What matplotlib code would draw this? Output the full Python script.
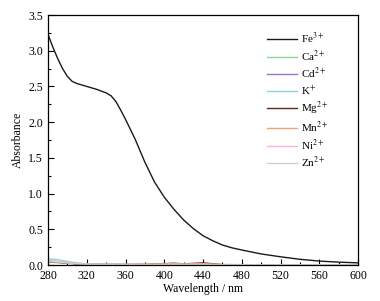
import numpy as np
import matplotlib
matplotlib.use('Agg')
import matplotlib.pyplot as plt
from matplotlib.ticker import MultipleLocator

plt.rcParams['font.family'] = ['Liberation Serif', 'DejaVu Serif']
plt.rcParams['mathtext.fontset'] = 'stix'

# wavelength grid (nm) and absorbance
wl = [280, 285, 290, 295, 300, 305, 310, 320, 330, 340, 345, 350, 355, 360, 370,
      380, 390, 400, 410, 420, 430, 440, 450, 460, 470, 480, 500, 520, 540, 560,
      580, 600]
fe = [3.23, 3.05, 2.89, 2.75, 2.64, 2.57, 2.54, 2.50, 2.46, 2.41, 2.37, 2.29,
      2.17, 2.04, 1.76, 1.44, 1.16, 0.95, 0.78, 0.63, 0.51, 0.41, 0.34, 0.28,
      0.24, 0.21, 0.155, 0.115, 0.08, 0.055, 0.04, 0.03]

wl_s = [280, 290, 300, 310, 320, 340, 360, 380, 400, 410, 420, 440, 460, 500, 550, 600]
ca = [0.06, 0.05, 0.035, 0.02, 0.012, 0.008, 0.006, 0.006, 0.008, 0.008, 0.007, 0.006, 0.004, 0.004, 0.003, 0.003]
cd = [0.05, 0.045, 0.03, 0.02, 0.012, 0.008, 0.006, 0.006, 0.006, 0.006, 0.006, 0.005, 0.004, 0.003, 0.003, 0.002]
k = [0.085, 0.075, 0.05, 0.03, 0.015, 0.01, 0.007, 0.006, 0.007, 0.007, 0.006, 0.005, 0.004, 0.003, 0.003, 0.002]
mg = [0.04, 0.035, 0.025, 0.015, 0.01, 0.006, 0.006, 0.008, 0.018, 0.025, 0.015, 0.03, 0.005, 0.003, 0.003, 0.002]
mn = [0.045, 0.04, 0.03, 0.02, 0.012, 0.008, 0.008, 0.01, 0.015, 0.02, 0.015, 0.02, 0.006, 0.004, 0.003, 0.003]
ni = [0.055, 0.05, 0.035, 0.022, 0.012, 0.008, 0.006, 0.006, 0.007, 0.007, 0.006, 0.006, 0.004, 0.003, 0.003, 0.002]
zn = [0.05, 0.045, 0.03, 0.02, 0.012, 0.008, 0.006, 0.006, 0.006, 0.006, 0.006, 0.005, 0.004, 0.003, 0.003, 0.002]

labels = ['Fe$^{3+}$', 'Ca$^{2+}$', 'Cd$^{2+}$', 'K$^{+}$', 'Mg$^{2+}$', 'Mn$^{2+}$', 'Ni$^{2+}$', 'Zn$^{2+}$']
colors = ['#1a1a1a', '#8fd68f', '#9a6fc8', '#8fd3e0', '#5b2c1e', '#f0a278', '#f2b6dc', '#cfcfcf']

fig = plt.figure(figsize=(3.8, 3.01), dpi=100)
ax = fig.add_axes([48/380, 36/301, 310/380, 250/301])

ax.plot(wl, fe, color=colors[0], lw=1.0, label=labels[0])
for y, c, lab in zip([ca, cd, k, mg, mn, ni, zn], colors[1:], labels[1:]):
    ax.plot(wl_s, y, color=c, lw=1.0, label=lab)

ax.set_xlim(280, 600)
ax.set_ylim(0, 3.5)
ax.xaxis.set_major_locator(MultipleLocator(40))
ax.xaxis.set_minor_locator(MultipleLocator(20))
ax.yaxis.set_major_locator(MultipleLocator(0.5))
ax.yaxis.set_minor_locator(MultipleLocator(0.25))
ax.tick_params(which='both', direction='in', labelsize=8.5, width=0.8)
ax.tick_params(which='major', length=4)
ax.tick_params(which='minor', length=2.5)
ax.set_yticks(np.arange(0, 3.51, 0.5))
ax.set_yticklabels(['%.1f' % v for v in np.arange(0, 3.51, 0.5)])
for s in ax.spines.values():
    s.set_linewidth(0.9)

ax.set_xlabel('Wavelength / nm', fontsize=8.5, labelpad=1)
ax.set_ylabel('Absorbance', fontsize=8.5, labelpad=3)

ax.legend(loc='upper left', frameon=False, fontsize=8, handlelength=2.7,
          handletextpad=0.35, labelspacing=0.22, borderpad=0, borderaxespad=0,
          bbox_to_anchor=((267 - 48) / 310, 0.936))

fig.savefig('out.png', dpi=100)
